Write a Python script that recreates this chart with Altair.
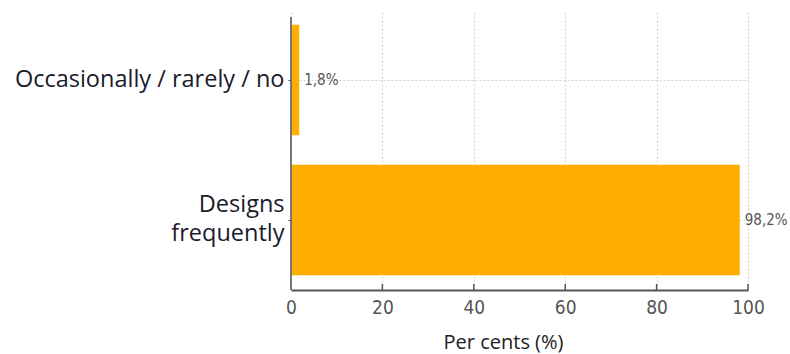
import altair as alt
import pandas as pd

# Survey answers and their shares in per cent
categories = ["Occasionally / rarely / no", "Designs frequently"]
shares = [1.8, 98.2]
x_ticks = [0, 20, 40, 60, 80, 100]

df = pd.DataFrame({"answer": categories, "share": shares})
ticks_df = pd.DataFrame({"tick": x_ticks})

W, H = 457, 280
BAR = "#FFAE00"
NUM_FONT = "DejaVu Sans Condensed"
CAT_FONT = "Open Sans"

x_scale = alt.Scale(domain=[0, 100], nice=False)
y_scale = alt.Scale(domain=categories, paddingInner=0.21, paddingOuter=0.105)

bars = alt.Chart(df).mark_bar(color=BAR).encode(
    x=alt.X(
        "share:Q",
        scale=x_scale,
        axis=alt.Axis(
            values=x_ticks,
            title="Per cents (%)",
            titleFont=CAT_FONT,
            titleFontSize=20,
            titleFontWeight="normal",
            titleColor="#222222",
            titlePadding=15,
            titleX=212,
            labelFont=NUM_FONT,
            labelFontSize=19,
            labelColor="#555555",
            labelPadding=8,
            labelFlush=False,
            tickSize=0,
            domainColor="#555555",
            domainWidth=2,
            grid=True,
            gridColor="#d0d0d0",
            gridDash=[2, 2],
            gridWidth=1,
        ),
    ),
    y=alt.Y(
        "answer:N",
        scale=y_scale,
        axis=alt.Axis(
            title=None,
            labelFont=CAT_FONT,
            labelFontSize=23.5,
            labelColor="#1a1a2a",
            labelLimit=400,
            labelPadding=4,
            labelLineHeight=29,
            labelOffset={
                "condition": {"test": "datum.value == 'Designs frequently'", "value": -15},
                "value": 0,
            },
            labelExpr="datum.value == 'Designs frequently' ? ['Designs', 'frequently'] : datum.value",
            tickSize=3,
            tickColor="#444444",
            bandPosition=0.5,
            domain=False,
            grid=True,
            gridColor="#d0d0d0",
            gridDash=[2, 2],
            gridWidth=1,
        ),
    ),
)

labels = alt.Chart(df).transform_calculate(
    txt="replace(format(datum.share, '.1f'), '.', ',') + '%'"
).mark_text(
    align="left", baseline="middle", dx=5, font=NUM_FONT, fontSize=15, color="#555555"
).encode(
    x=alt.X("share:Q", scale=x_scale),
    y=alt.Y("answer:N", scale=y_scale),
    text="txt:N",
)

# Short inward tick marks on the value axis
tick_marks = alt.Chart(ticks_df).mark_rule(color="#555555", strokeWidth=1.5).encode(
    x=alt.X("tick:Q", scale=x_scale),
    y=alt.value(H),
    y2=alt.value(H - 6),
)

# Category axis line
y_line = alt.Chart(ticks_df).mark_rule(color="#777777", strokeWidth=2).encode(
    x=alt.value(0),
    y=alt.value(7),
    y2=alt.value(H),
)

chart = alt.layer(bars, labels, tick_marks, y_line).properties(
    width=W,
    height=H,
    autosize=alt.AutoSizeParams(type="none"),
    padding={"left": 291, "top": 10, "right": 42, "bottom": 64},
).configure_view(stroke=None)

chart.save("out.html", embed_options={"renderer": "svg", "actions": False})
